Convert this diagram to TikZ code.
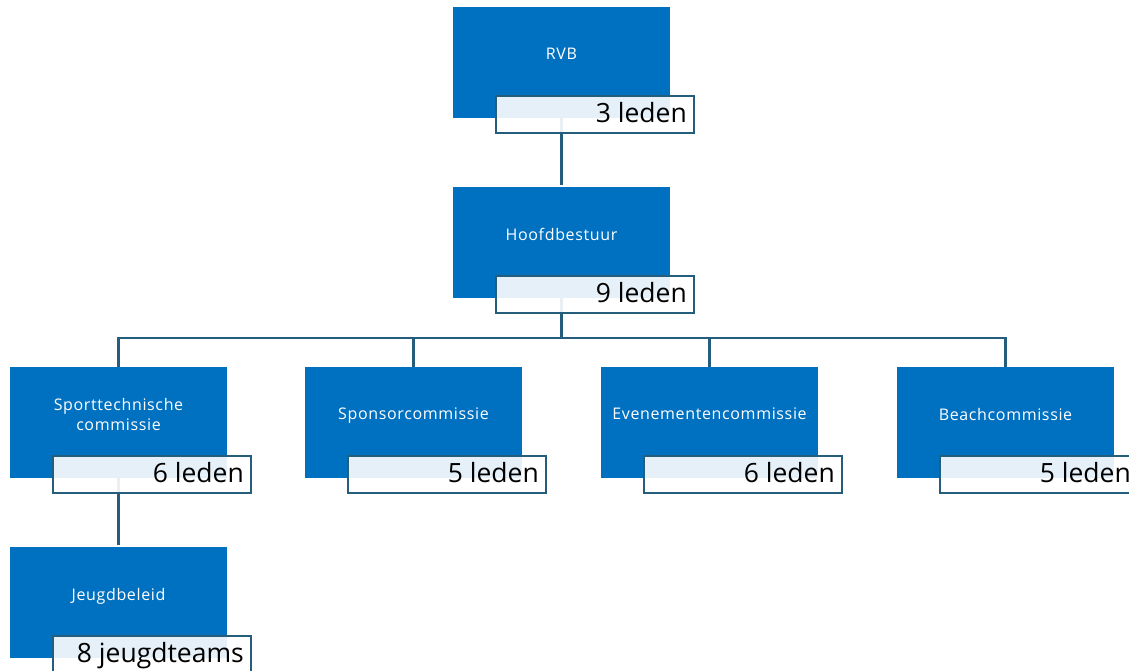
\documentclass[tikz,border=0pt]{standalone}
\usepackage{fontspec}
\setmainfont{Open Sans}
\newfontfamily\boxfont[LetterSpace=4]{Open Sans}
\usetikzlibrary{calc}
\definecolor{boxblue}{RGB}{0,112,192}
\definecolor{edgecol}{RGB}{36,94,124}
\tikzset{
  bluebox/.style={fill=boxblue, draw=none, minimum width=217pt, minimum height=111pt, anchor=north west, inner sep=0pt, outer sep=0pt},
  boxtext/.style={text=white, font=\boxfont\fontsize{16}{20}\selectfont, align=center, inner sep=0pt},
  oneline/.style={text depth=0pt},
  lblbox/.style={fill=white, fill opacity=0.9, draw=edgecol, line width=2.2pt, minimum width=198pt, minimum height=37pt, anchor=north west, inner sep=0pt, outer sep=0pt},
  lbltext/.style={font=\fontsize{26.5}{30}\selectfont, anchor=base east, inner sep=0pt},
  conn/.style={draw=edgecol, line width=2.2pt}
}
\newcommand\orgbox[5][oneline]{%
  \node[bluebox] (#2) at (#3,#4) {};
  \node[boxtext,#1] (#2t) at ($(#2.north)+(0,47)$) {#5};
}
\newcommand\orglabel[2]{%
  \node[lblbox] (#1l) at ($(#1.north west)+(43,89)$) {};
  \node[lbltext] (#1n) at ($(#1l.north east)+(-7,26.5)$) {#2};
}
\begin{document}
\begin{tikzpicture}[x=1pt,y=-1pt]
\useasboundingbox (0,0) rectangle (1129,670);
\clip (0,0) rectangle (1129,670);
\orgbox{rvb}{453}{7}{RVB}
\orgbox{hb}{453}{187}{Hoofdbestuur}
\orgbox[]{st}{10}{367}{Sporttechnische\\commissie}
\orgbox{sp}{305}{367}{Sponsorcommissie}
\orgbox{ev}{601}{367}{Evenementencommissie}
\orgbox{be}{897}{367}{Beachcommissie}
\orgbox{jb}{10}{547}{Jeugdbeleid}
\coordinate (bus) at ($(hb.south)+(0,40)$);
\draw[conn] (rvb.south) -- ($(hb.north)+(0,-2)$);
\draw[conn] (hb.south) -- (bus);
\draw[conn] (bus) -| (st.north);
\draw[conn] (bus) -| (sp.north);
\draw[conn] (bus) -| (ev.north);
\draw[conn] (bus) -| (be.north);
\draw[conn] (st.south) -- ($(jb.north)+(0,-2)$);
\orglabel{rvb}{3 leden}
\orglabel{hb}{9 leden}
\orglabel{st}{6 leden}
\orglabel{sp}{5 leden}
\orglabel{ev}{6 leden}
\orglabel{be}{5 leden}
\orglabel{jb}{8 jeugdteams}
\end{tikzpicture}
\end{document}
